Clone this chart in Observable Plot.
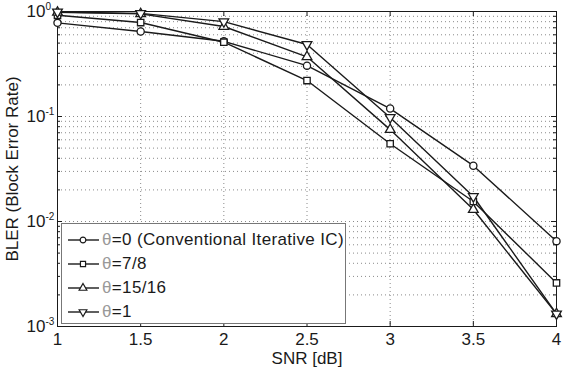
<!DOCTYPE html>
<html>
<head>
<meta charset="utf-8">
<script src="https://cdn.jsdelivr.net/npm/d3@7"></script>
<script src="https://cdn.jsdelivr.net/npm/@observablehq/plot@0.6"></script>
<style>
  html, body { margin: 0; padding: 0; background: #fff; }
  #chart { position: relative; width: 565px; height: 368px; font-family: "Liberation Sans", Arial, sans-serif; }
  #legend {
    position: absolute; left: 61px; top: 223px; width: 285px; height: 101px;
    background: #fff; border: 1px solid #777; box-sizing: border-box;
    padding: 4px 0 0 5px; color: #1a1a1a; font-size: 17px; letter-spacing: 0.35px;
  }
  #legend .row { display: flex; align-items: center; height: 24px; }
  #legend svg { display: block; margin-right: 2px; }
  #legend .th { color: #999; }
</style>
</head>
<body>
<div id="chart"></div>
<script>
// SNR sweep (dB)
const snr = [1, 1.5, 2, 2.5, 3, 3.5, 4];

// Block error rate for each weighting factor θ
const blerTheta0 = [0.78, 0.645, 0.52, 0.305, 0.119, 0.034, 0.0065];
const blerTheta7_8 = [0.92, 0.785, 0.51, 0.22, 0.055, 0.0155, 0.0026];
const blerTheta15_16 = [0.98, 0.95, 0.72, 0.37, 0.075, 0.013, 0.00132];
const blerTheta1 = [0.99, 0.96, 0.80, 0.485, 0.098, 0.0173, 0.00132];

const seriesLabels = ["θ=0 (Conventional Iterative IC)", "θ=7/8", "θ=15/16", "θ=1"];
const seriesValues = [blerTheta0, blerTheta7_8, blerTheta15_16, blerTheta1];
const seriesSymbols = ["circle", "square", "triangle", "triangle"];
const seriesRotate = [0, 0, 0, 180];

// Axis ticks
const xTicks = [1, 1.5, 2, 2.5, 3, 3.5, 4];
const yMajor = [1e-3, 1e-2, 1e-1, 1];
const yMinor = [-3, -2, -1].flatMap(e => [2, 3, 4, 5, 6, 7, 8, 9].map(k => k * 10 ** e));

const W = 565, H = 368;
const M = {top: 11, right: 9, bottom: 42, left: 57};
const innerW = W - M.left - M.right;
const innerH = H - M.top - M.bottom;

const rows = seriesValues.flatMap((vals, s) =>
  snr.map((x, i) => ({snr: x, bler: vals[i], s}))
);

const gridStyle = {stroke: "#8a8a8a", strokeOpacity: 1, strokeDasharray: "1,3", strokeWidth: 1};
const ink = "#1a1a1a";

const chart = Plot.plot({
  width: W, height: H,
  marginTop: M.top, marginRight: M.right, marginBottom: M.bottom, marginLeft: M.left,
  style: {fontFamily: "'Liberation Sans', Arial, sans-serif", color: ink, background: "#fff"},
  x: {domain: [1, 4], axis: null},
  y: {type: "log", domain: [1e-3, 1], axis: null},
  marks: [
    // dotted grid
    Plot.gridX(xTicks.slice(1, -1), gridStyle),
    Plot.gridY(yMajor.slice(1, -1).concat(yMinor), gridStyle),
    // inward ticks on all four sides
    Plot.tickX(xTicks, {x: d => d, insetTop: innerH - 5, stroke: ink}),
    Plot.tickX(xTicks, {x: d => d, insetBottom: innerH - 5, stroke: ink}),
    Plot.tickY(yMajor, {y: d => d, insetRight: innerW - 5, stroke: ink}),
    Plot.tickY(yMajor, {y: d => d, insetLeft: innerW - 5, stroke: ink}),
    Plot.tickY(yMinor, {y: d => d, insetRight: innerW - 3, stroke: ink}),
    Plot.tickY(yMinor, {y: d => d, insetLeft: innerW - 3, stroke: ink}),
    Plot.frame({stroke: ink, strokeWidth: 1}),
    // tick labels
    Plot.text(xTicks, {x: d => d, text: d => String(d), frameAnchor: "bottom", lineAnchor: "top", dy: 6, fontSize: 17, fill: ink}),
    Plot.text(yMajor, {y: d => d, text: () => "10", frameAnchor: "left", textAnchor: "end", dx: -12, fontSize: 17, fill: ink}),
    Plot.text(yMajor, {y: d => d, text: d => String(Math.round(Math.log10(d))), frameAnchor: "left", textAnchor: "start", dx: -12, dy: -5, fontSize: 10, fill: ink}),
    // axis titles
    Plot.text(["SNR [dB]"], {frameAnchor: "bottom", textAnchor: "middle", dy: 37, fontSize: 17, fill: ink}),
    Plot.text(["BLER (Block Error Rate)"], {frameAnchor: "left", textAnchor: "middle", dx: -45, rotate: -90, fontSize: 17, fill: ink}),
    // curves
    Plot.line(rows, {x: "snr", y: "bler", z: "s", stroke: ink, strokeWidth: 1.4}),
    ...seriesValues.map((_, s) =>
      Plot.dot(rows.filter(d => d.s === s), {
        x: "snr", y: "bler", symbol: seriesSymbols[s], rotate: seriesRotate[s],
        r: 3.6, stroke: ink, strokeWidth: 1.3, fill: "#fff"
      })
    )
  ]
});

const root = document.getElementById("chart");
root.appendChild(chart);

// legend box inside the axes, lower left
const legend = document.createElement("div");
legend.id = "legend";
const symbolPath = (name, rot) => {
  const type = {circle: d3.symbolCircle, square: d3.symbolSquare, triangle: d3.symbolTriangle}[name];
  const p = d3.symbol(type, 26)();
  return `<path d="${p}" transform="translate(16,7) rotate(${rot})" fill="#fff" stroke="${ink}" stroke-width="1.2"/>`;
};
seriesLabels.forEach((label, s) => {
  const row = document.createElement("div");
  row.className = "row";
  row.innerHTML =
    `<svg width="33" height="14"><line x1="1" x2="32" y1="7" y2="7" stroke="${ink}" stroke-width="1.4"/>${symbolPath(seriesSymbols[s], seriesRotate[s])}</svg>` +
    `<span><span class="th">${label.slice(0, 1)}</span>${label.slice(1)}</span>`;
  legend.appendChild(row);
});
root.appendChild(legend);
</script>
</body>
</html>
